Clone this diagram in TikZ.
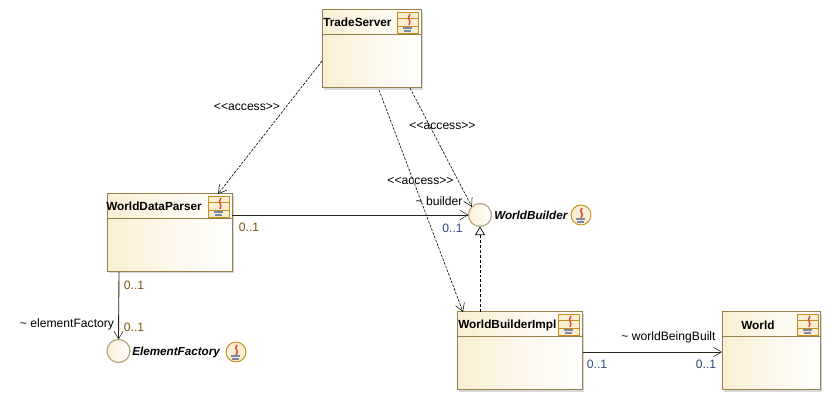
\documentclass[tikz,border=0pt]{standalone}
\usepackage{fontspec}
\setmainfont{Liberation Sans}
\usetikzlibrary{arrows.meta,calc,positioning}
\definecolor{umlborder}{HTML}{96804C}
\definecolor{umlfill}{HTML}{FAEFD4}
\definecolor{lineink}{HTML}{2A2216}
\definecolor{multblue}{HTML}{2C5078}
\definecolor{multbrown}{HTML}{7A5510}
\definecolor{iconor}{HTML}{C8901A}
\definecolor{iconred}{HTML}{E04A30}
\definecolor{icongrey}{HTML}{7A88A8}
\tikzset{
  x=0.75pt,y=-0.75pt,
  classbox/.style={draw=umlborder,line width=0.75pt,left color=umlfill,right color=white,minimum width=#1*0.75pt,minimum height=78*0.75pt,inner sep=0pt,outer sep=0pt,anchor=north west},
  lollipop/.style={circle,draw=umlborder!70,line width=0.9pt,left color=umlfill,right color=white,minimum size=23*0.75pt,inner sep=0pt,outer sep=0pt},
  classname/.style={font=\bfseries\fontsize{8.85pt}{10pt}\selectfont,inner sep=0pt,anchor=west},
  ifacename/.style={font=\bfseries\itshape\fontsize{8.75pt}{10pt}\selectfont,inner sep=0pt,anchor=west},
  lbl/.style={font=\fontsize{9.1pt}{11pt}\selectfont,inner sep=0pt,text=#1},
  lbl/.default=black,
  assoc/.style={draw=lineink,line width=0.65pt,-{Straight Barb[length=6pt,width=7pt,line width=0.4pt]}},
  depend/.style={draw=black,line width=0.45pt,dash pattern=on 2pt off 1pt,-{Straight Barb[length=6pt,width=7pt,line width=0.4pt]}},
  realize/.style={draw=black,line width=0.6pt,dash pattern=on 2.2pt off 1.5pt,-{Triangle[open,fill=white,length=6.5pt,width=7.5pt,line width=0.5pt]}},
}
\newcommand{\classicon}[2]{%
  \begin{scope}[shift={(#1,#2)}]
    \draw[iconor,line width=0.7pt,fill=umlfill] (0,0) rectangle (21,21);
    \draw[iconor,line width=0.7pt] (0,6) -- (21,6) (0,14) -- (21,14);
    \draw[iconred,line width=1.1pt] (13,2) .. controls (9,7) and (15,8) .. (12,13);
    \fill[icongrey] (6,15) rectangle (15,17);
    \fill[icongrey] (7,18) rectangle (14,20);
  \end{scope}}
\newcommand{\ifaceicon}[2]{%
  \begin{scope}[shift={(#1,#2)}]
    \draw[iconor,line width=0.7pt,fill=umlfill] (0,0) circle (10);
    \draw[iconred,line width=1.1pt] (1,-7) .. controls (-3,-3) and (4,-2) .. (0,3);
    \fill[icongrey] (-5,3) rectangle (4,5);
    \fill[icongrey] (-4,6) rectangle (3,8);
  \end{scope}}
\begin{document}
\begin{tikzpicture}
\useasboundingbox (0,0) rectangle (832,402);
\fill[white] (0,0) rectangle (832,402);
% shadows
\foreach \a/\b/\c/\d in {322/10/421/88,107/194/232/271,457/312/582/390,722/312/820/390}
  \fill[black!15] (\a+2,\b+2) rectangle (\c+2,\d+2);
% classes
\node[classbox=99] (ts) at (322,10) {};
\node[classbox=125] (wdp) at (107,194) {};
\node[classbox=125] (wbi) at (457,312) {};
\node[classbox=98] (world) at (722,312) {};
\draw[umlborder,line width=0.75pt] (322,35) -- (421,35) (107,219) -- (232,219) (457,337) -- (582,337) (722,337) -- (820,337);
\classicon{397}{12}
\classicon{208}{196}
\classicon{558}{314}
\classicon{797}{314}
\node[classname] (tsn) at (323,22.5) {TradeServer};
\node[classname] (wdpn) at (106,206) {WorldDataParser};
\node[classname] (wbin) at (458,325) {WorldBuilderImpl};
\node[classname] (worldn) at (741,325) {World};
% interfaces
\node[lollipop] (wb) at (480,215) {};
\node[lollipop] (ef) at (118.5,351) {};
\node[ifacename] (wbn) at (494,215) {WorldBuilder};
\node[ifacename] (efn) at (132,352) {ElementFactory};
\ifaceicon{581}{215}
\ifaceicon{236}{352}
% connector ends
\coordinate (a1) at ($(ts.north west)+(0,51)$);
\coordinate (a2) at ($(wdp.north west)+(111,0)$);
\coordinate (b1) at ($(ts.south west)+(57,2)$);
\coordinate (b2) at ($(wbi.north west)+(6,0)$);
\coordinate (c1) at ($(ts.south west)+(88,0)$);
\coordinate (c2) at (wb.north west);
\coordinate (d1) at ($(wdp.north east)+(0,21)$);
\coordinate (e1) at ($(wdp.south west)+(12,0)$);
\coordinate (f1) at ($(wbi.north west)+(23,0)$);
\coordinate (g1) at ($(wbi.north east)+(1,40)$);
\coordinate (g2) at ($(world.north west)+(0,40)$);
% connectors
\draw[depend] (a1) -- (a2);
\draw[depend] (b1) -- (b2);
\draw[depend] (c1) -- (c2);
\draw[assoc] (d1) -- (wb.west);
\draw[assoc] (e1) -- (ef.north);
\draw[realize] (f1) -- (wb.south);
\draw[assoc] (g1) -- (g2);
% labels
\node[lbl] (l1) at (247,107.5) {<{}<access>{}>};
\node[lbl] (l2) at (442.5,126) {<{}<access>{}>};
\node[lbl] (l3) at (420.5,181) {<{}<access>{}>};
\node[lbl] (l4) at (439,201) {\textasciitilde{} builder};
\node[lbl=multblue] (l5) at (452.5,228) {0..1};
\node[lbl=multbrown] (l6) at (249,227) {0..1};
\node[lbl=multbrown] (l7) at (134,285.5) {0..1};
\node[lbl=multbrown] (l8) at (134,327) {0..1};
\node[lbl] (l9) at (67,324.5) {\textasciitilde{} elementFactory};
\node[lbl] (l10) at (668.5,337.5) {\textasciitilde{} worldBeingBuilt};
\node[lbl=multblue] (l11) at (597,364.5) {0..1};
\node[lbl=multblue] (l12) at (706,364.5) {0..1};
\end{tikzpicture}
\end{document}
